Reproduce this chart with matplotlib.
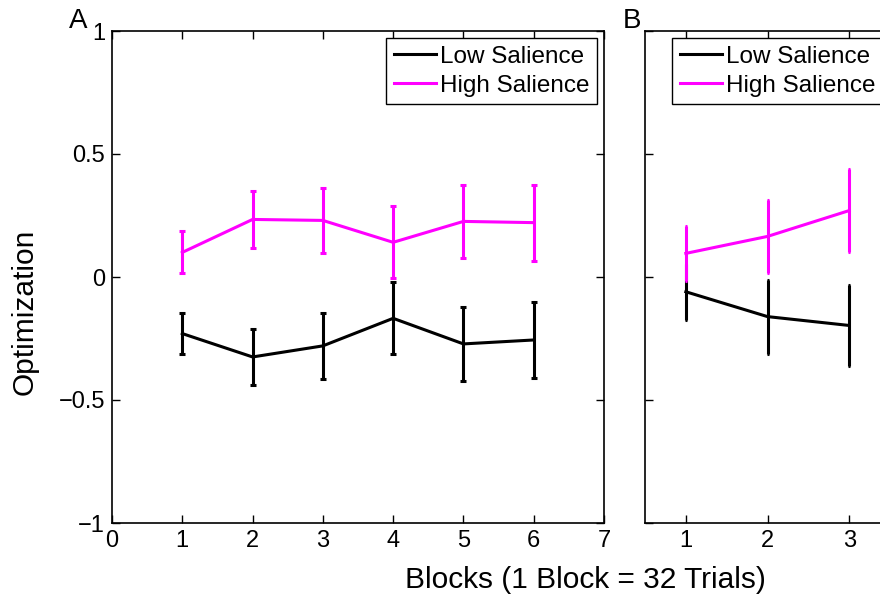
import matplotlib
matplotlib.use('Agg')
import matplotlib.pyplot as plt
from matplotlib.lines import Line2D

# panel A: 6 blocks
blocks_a = [1, 2, 3, 4, 5, 6]
low_a = [-0.230, -0.325, -0.280, -0.168, -0.272, -0.256]
low_a_err = [0.085, 0.114, 0.133, 0.146, 0.150, 0.155]
high_a = [0.100, 0.234, 0.230, 0.141, 0.226, 0.221]
high_a_err = [0.085, 0.115, 0.133, 0.146, 0.150, 0.155]

# panel B: 3 blocks
blocks_b = [1, 2, 3]
low_b = [-0.060, -0.161, -0.197]
low_b_err = [0.113, 0.150, 0.166]
high_b = [0.096, 0.165, 0.270]
high_b_err = [0.112, 0.150, 0.168]

plt.rcParams['font.family'] = ['Liberation Sans', 'DejaVu Sans']

MAGENTA = '#ff00ff'
fig = plt.figure(figsize=(8.8, 5.97), dpi=100)
axA = fig.add_axes([112/880, 74/597, 492/880, 492/597])
axB = fig.add_axes([645/880, 74/597, 245/880, 492/597])

def panel(ax, x, low, lowerr, high, higherr, cap):
    ax.errorbar(x, low, yerr=lowerr, color='black', lw=2.2, elinewidth=2.2,
                capsize=cap, capthick=2.2)
    ax.errorbar(x, high, yerr=higherr, color=MAGENTA, lw=2.2, elinewidth=2.2,
                capsize=cap, capthick=2.2)
    ax.set_ylim(-1, 1)
    ax.set_yticks([-1, -0.5, 0, 0.5, 1])
    ax.tick_params(direction='in', top=True, right=True, length=6, width=1,
                   labelsize=17, pad=5)
    for s in ax.spines.values():
        s.set_linewidth(1.2)
    handles = [Line2D([], [], color='black', lw=2.2),
               Line2D([], [], color=MAGENTA, lw=2.2)]
    leg = ax.legend(handles, ['Low Salience', 'High Salience'], loc='upper right',
                    fontsize=17.5, fancybox=False, framealpha=1, edgecolor='black',
                    handlelength=1.75, handletextpad=0.15, borderpad=0.3,
                    labelspacing=0.3, borderaxespad=0.3)
    leg.get_frame().set_linewidth(1)

panel(axA, blocks_a, low_a, low_a_err, high_a, high_a_err, 2)
axA.set_xlim(0, 7)
axA.set_xticks(range(0, 8))
axA.set_yticklabels(['\u22121', '\u22120.5', '0', '0.5', '1'])

panel(axB, blocks_b, low_b, low_b_err, high_b, high_b_err, 0.8)
axB.set_xlim(0.5, 3.5)
axB.set_xticks([1, 2, 3])
axB.set_yticklabels([])

fig.text(78/880, 1 - 21/597, 'A', fontsize=20, ha='center', va='center')
fig.text(632/880, 1 - 21/597, 'B', fontsize=20, ha='center', va='center')
fig.text(25/880, 1 - 312/597, 'Optimization', fontsize=21.5, rotation=90, ha='center', va='center')
fig.text(585/880, 1 - 580/597, 'Blocks (1 Block = 32 Trials)', fontsize=21.5, ha='center', va='center')

fig.savefig('out.png', dpi=100)
